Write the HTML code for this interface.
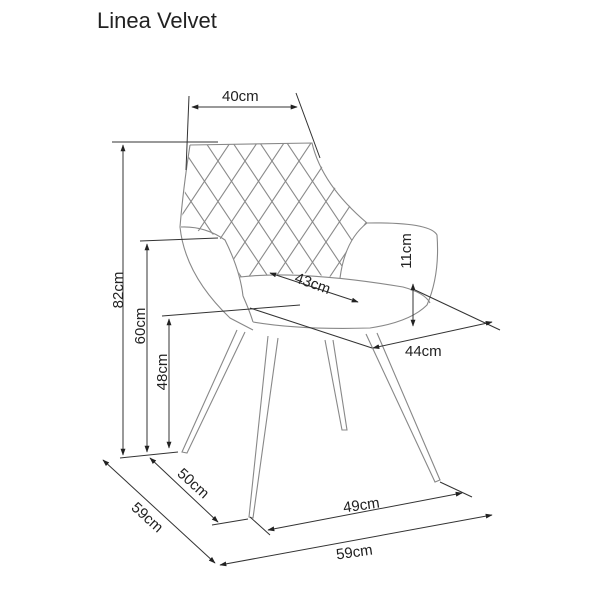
<!DOCTYPE html>
<html><head><meta charset="utf-8"><style>
html,body{margin:0;padding:0;background:#fff}
svg{display:block}
text{font-family:"Liberation Sans",Arial,sans-serif;fill:#222}
</style></head><body>
<svg width="600" height="600" viewBox="0 0 600 600" xmlns="http://www.w3.org/2000/svg">
<defs>
<marker id="a" viewBox="0 0 10 10" refX="9" refY="5" markerWidth="7" markerHeight="7" orient="auto-start-reverse">
<path d="M0,1.5 L10,5 L0,8.5 z" fill="#222"/></marker>
<clipPath id="bk"><path d="M190,145 L312,143 Q325,185 367,223 Q345,240 340,278 L303,273 L240,277 Q232,245 215,235 L181,227 Z"/></clipPath>
</defs>
<text x="97" y="28" font-size="22">Linea Velvet</text>

<g fill="none" stroke="#888" stroke-width="1.1">
<path d="M190,145 L312,143 Q322,185 367,223 Q430,222 437,235 Q440,275 427,305 Q410,322 370,328 Q300,330 253,322"/>
<path d="M190,145 Q183,190 180,227 Q185,275 230,318 L253,330"/>
<path d="M181,227 Q205,226 225,240 Q240,270 243,296"/>
<path d="M240,277 Q300,270 403,287 Q425,293 430,303"/>
<path d="M243,296 Q250,312 253,322"/>
<path d="M367,223 Q345,240 340,278"/>
<g clip-path="url(#bk)" stroke="#8a8a8a">
<path d="M150,140 L250,290 M177,140 L277,290 M204,140 L304,290 M231,140 L331,290 M258,140 L358,290 M285,140 L385,290 M312,140 L412,290 M123,140 L223,290 M96,140 L196,290"/>
<path d="M340,140 L240,290 M313,140 L213,290 M286,140 L186,290 M259,140 L159,290 M232,140 L132,290 M367,140 L267,290 M394,140 L294,290 M421,140 L321,290"/>
</g>
<path d="M237,330 L182,452 L187,453 L245,332"/>
<path d="M268,336 L249,517 L253,518 L278,338"/>
<path d="M325,340 L342,430 L347,430 L333,340"/>
<path d="M366,334 L435,482 L440,480 L377,333"/>
</g>

<g fill="none" stroke="#333" stroke-width="1">
<path d="M189,96 L186,170 M296,93 L320,158"/>
<path d="M192,107 L297,107" marker-start="url(#a)" marker-end="url(#a)"/>
<path d="M112,142 L218,142"/>
<path d="M123,145 L123,455" marker-start="url(#a)" marker-end="url(#a)"/>
<path d="M140,241 L218,238"/>
<path d="M147,244 L147,452" marker-start="url(#a)" marker-end="url(#a)"/>
<path d="M162,316 L300,305"/>
<path d="M169,319 L169,448" marker-start="url(#a)" marker-end="url(#a)"/>
<path d="M120,458 L178,452"/>
<path d="M103,460 L215,563" marker-start="url(#a)" marker-end="url(#a)"/>
<path d="M150,458 L218,522" marker-start="url(#a)" marker-end="url(#a)"/>
<path d="M212,525 L248,519 M250,517 L270,535 M440,482 L472,497"/>
<path d="M268,530 L462,493" marker-start="url(#a)" marker-end="url(#a)"/>
<path d="M220,565 L492,515" marker-start="url(#a)" marker-end="url(#a)"/>
<path d="M270,273 L358,302" marker-start="url(#a)" marker-end="url(#a)"/>
<path d="M413,284 L413,326" marker-start="url(#a)" marker-end="url(#a)"/>
<path d="M250,308 L372,348 M415,290 L500,330"/>
<path d="M373,348 L492,322" marker-start="url(#a)" marker-end="url(#a)"/>
</g>

<g font-size="15">
<text x="222" y="101">40cm</text>
<text transform="translate(123,290) rotate(-90)" text-anchor="middle">82cm</text>
<text transform="translate(145,326) rotate(-90)" text-anchor="middle">60cm</text>
<text transform="translate(167,372) rotate(-90)" text-anchor="middle">48cm</text>
<text transform="translate(411,251) rotate(-90)" text-anchor="middle">11cm</text>
<text transform="translate(311,288) rotate(20)" text-anchor="middle">43cm</text>
<text x="405" y="356">44cm</text>
<text transform="translate(190,487) rotate(42)" text-anchor="middle">50cm</text>
<text transform="translate(144,521) rotate(42)" text-anchor="middle">59cm</text>
<text transform="translate(362,510) rotate(-8)" text-anchor="middle">49cm</text>
<text transform="translate(355,557) rotate(-8)" text-anchor="middle">59cm</text>
</g>
</svg>
</body></html>
